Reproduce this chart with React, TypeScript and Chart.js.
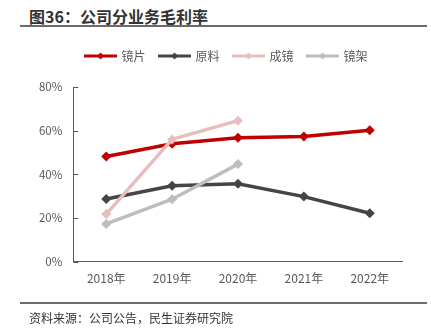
import React, { useEffect, useRef } from "react";
import { Chart, registerables } from "chart.js";

Chart.register(...registerables);

const categories = ["2018年", "2019年", "2020年", "2021年", "2022年"];
const seriesNames = ["镜片", "原料", "成镜", "镜架"];
const lensValues = [48.2, 54.0, 56.8, 57.3, 60.2];
const rawValues = [28.7, 34.8, 35.7, 29.8, 22.2];
const finishedValues = [21.8, 56.0, 64.6];
const frameValues = [17.3, 28.6, 44.7];
const yTickValues = [0, 20, 40, 60, 80];

const seriesColors = ["#C00000", "#454545", "#E8BEBD", "#BDBDBD"];
const FONT = '"Noto Sans CJK SC", "Noto Sans", sans-serif';

function makeLegendImage(color: string): HTMLCanvasElement {
  const c = document.createElement("canvas");
  c.width = 33;
  c.height = 10;
  const ctx = c.getContext("2d")!;
  ctx.strokeStyle = color;
  ctx.lineWidth = 3;
  ctx.beginPath();
  ctx.moveTo(0, 5);
  ctx.lineTo(33, 5);
  ctx.stroke();
  ctx.fillStyle = color;
  ctx.beginPath();
  ctx.moveTo(16.5, 1.5);
  ctx.lineTo(20, 5);
  ctx.lineTo(16.5, 8.5);
  ctx.lineTo(13, 5);
  ctx.closePath();
  ctx.fill();
  return c;
}

export default function App() {
  const ref = useRef<HTMLCanvasElement>(null);

  useEffect(() => {
    const canvas = ref.current;
    if (!canvas) return;
    const values = [lensValues, rawValues, finishedValues, frameValues];
    const images = seriesColors.map(makeLegendImage);
    const axisColor = "#595959";

    const legendExtra = {
      id: "legendExtra",
      beforeLayout(chart: any) {
        const lg = chart.legend;
        if (lg && !lg.__patched) {
          const origFit = lg.fit;
          lg.fit = function () {
            origFit.call(this);
            this.height += 15;
          };
          const origDraw = lg.draw;
          lg.draw = function () {
            const ctx = this.ctx;
            ctx.save();
            ctx.translate(25.2, 0);
            origDraw.call(this);
            ctx.restore();
          };
          lg.__patched = true;
        }
      },
    };

    const innerTicks = {
      id: "innerTicks",
      afterDatasetsDraw(chart: any) {
        const y = chart.scales.y;
        const left = chart.chartArea.left;
        const ctx = chart.ctx;
        ctx.save();
        ctx.strokeStyle = axisColor;
        ctx.lineWidth = 1;
        yTickValues.forEach((v) => {
          const py = Math.round(y.getPixelForValue(v)) + 0.5;
          ctx.beginPath();
          ctx.moveTo(left, py);
          ctx.lineTo(left + 5, py);
          ctx.stroke();
        });
        ctx.restore();
      },
    };

    const chart = new Chart(canvas, {
      type: "line",
      data: {
        labels: categories,
        datasets: seriesNames.map((name, i) => ({
          label: name,
          data: values[i],
          borderColor: seriesColors[i],
          backgroundColor: seriesColors[i],
          borderWidth: 3.5,
          pointStyle: "rectRot",
          pointRadius: 5,
          pointBorderWidth: 0,
          pointBackgroundColor: seriesColors[i],
          tension: 0,
          fill: false,
          order: 3 - i,
        })),
      },
      options: {
        animation: false,
        responsive: false,
        maintainAspectRatio: false,
        layout: { padding: { left: 0, right: 28.3, top: 36, bottom: 42.3 } },
        plugins: {
          title: { display: false },
          tooltip: { enabled: false },
          legend: {
            display: true,
            position: "top",
            labels: {
              usePointStyle: true,
              pointStyleWidth: 30,
              boxHeight: 12,
              padding: 14,
              color: "#595959",
              font: { family: FONT, size: 12 },
              generateLabels: () =>
                seriesNames.map((name, i) => ({
                  text: name,
                  fillStyle: seriesColors[i],
                  strokeStyle: seriesColors[i],
                  lineWidth: 0,
                  pointStyle: images[i] as any,
                  hidden: false,
                  datasetIndex: i,
                  fontColor: "#595959",
                })),
            },
          },
        },
        scales: {
          x: {
            type: "category",
            offset: true,
            grid: { display: true, drawOnChartArea: false, drawTicks: false },
            border: { display: true, color: axisColor, width: 1 },
            ticks: {
              color: "#595959",
              padding: 10,
              maxRotation: 0,
              font: { family: FONT, size: 12 },
            },
            afterFit: (s: any) => {
              s.height = 30;
            },
          },
          y: {
            min: 0,
            max: 80,
            grid: { display: true, drawOnChartArea: false, drawTicks: false },
            border: { display: true, color: axisColor, width: 1 },
            ticks: {
              stepSize: 20,
              color: "#595959",
              padding: 11,
              font: { family: FONT, size: 11.5 },
              callback: (v: any) => v + "%",
            },
            afterFit: (s: any) => {
              s.width = 73.3;
            },
          },
        },
      },
      plugins: [legendExtra, innerTicks],
    });
    return () => chart.destroy();
  }, []);

  return (
    <div
      style={{
        position: "fixed",
        left: 0,
        top: 0,
        width: 431,
        height: 334,
        background: "#fff",
        fontFamily: FONT,
      }}
    >
      <div
        style={{
          position: "absolute",
          left: 29,
          top: 5,
          fontSize: 16,
          fontWeight: 700,
          color: "#333",
          lineHeight: "22px",
          whiteSpace: "nowrap",
        }}
      >
        图36：公司分业务毛利率
      </div>
      <div
        style={{
          position: "absolute",
          left: 20,
          top: 25,
          width: 407,
          height: 2,
          background: "#6b6b6b",
        }}
      />
      <canvas
        ref={ref}
        width={431}
        height={334}
        style={{ position: "absolute", left: 0, top: 0, width: 431, height: 334 }}
      />
      <div
        style={{
          position: "absolute",
          left: 20,
          top: 302,
          width: 407,
          height: 2,
          background: "#6b6b6b",
        }}
      />
      <div
        style={{
          position: "absolute",
          left: 29,
          top: 309,
          fontSize: 12,
          color: "#333",
          lineHeight: "18px",
          whiteSpace: "nowrap",
        }}
      >
        资料来源：公司公告，民生证券研究院
      </div>
    </div>
  );
}
